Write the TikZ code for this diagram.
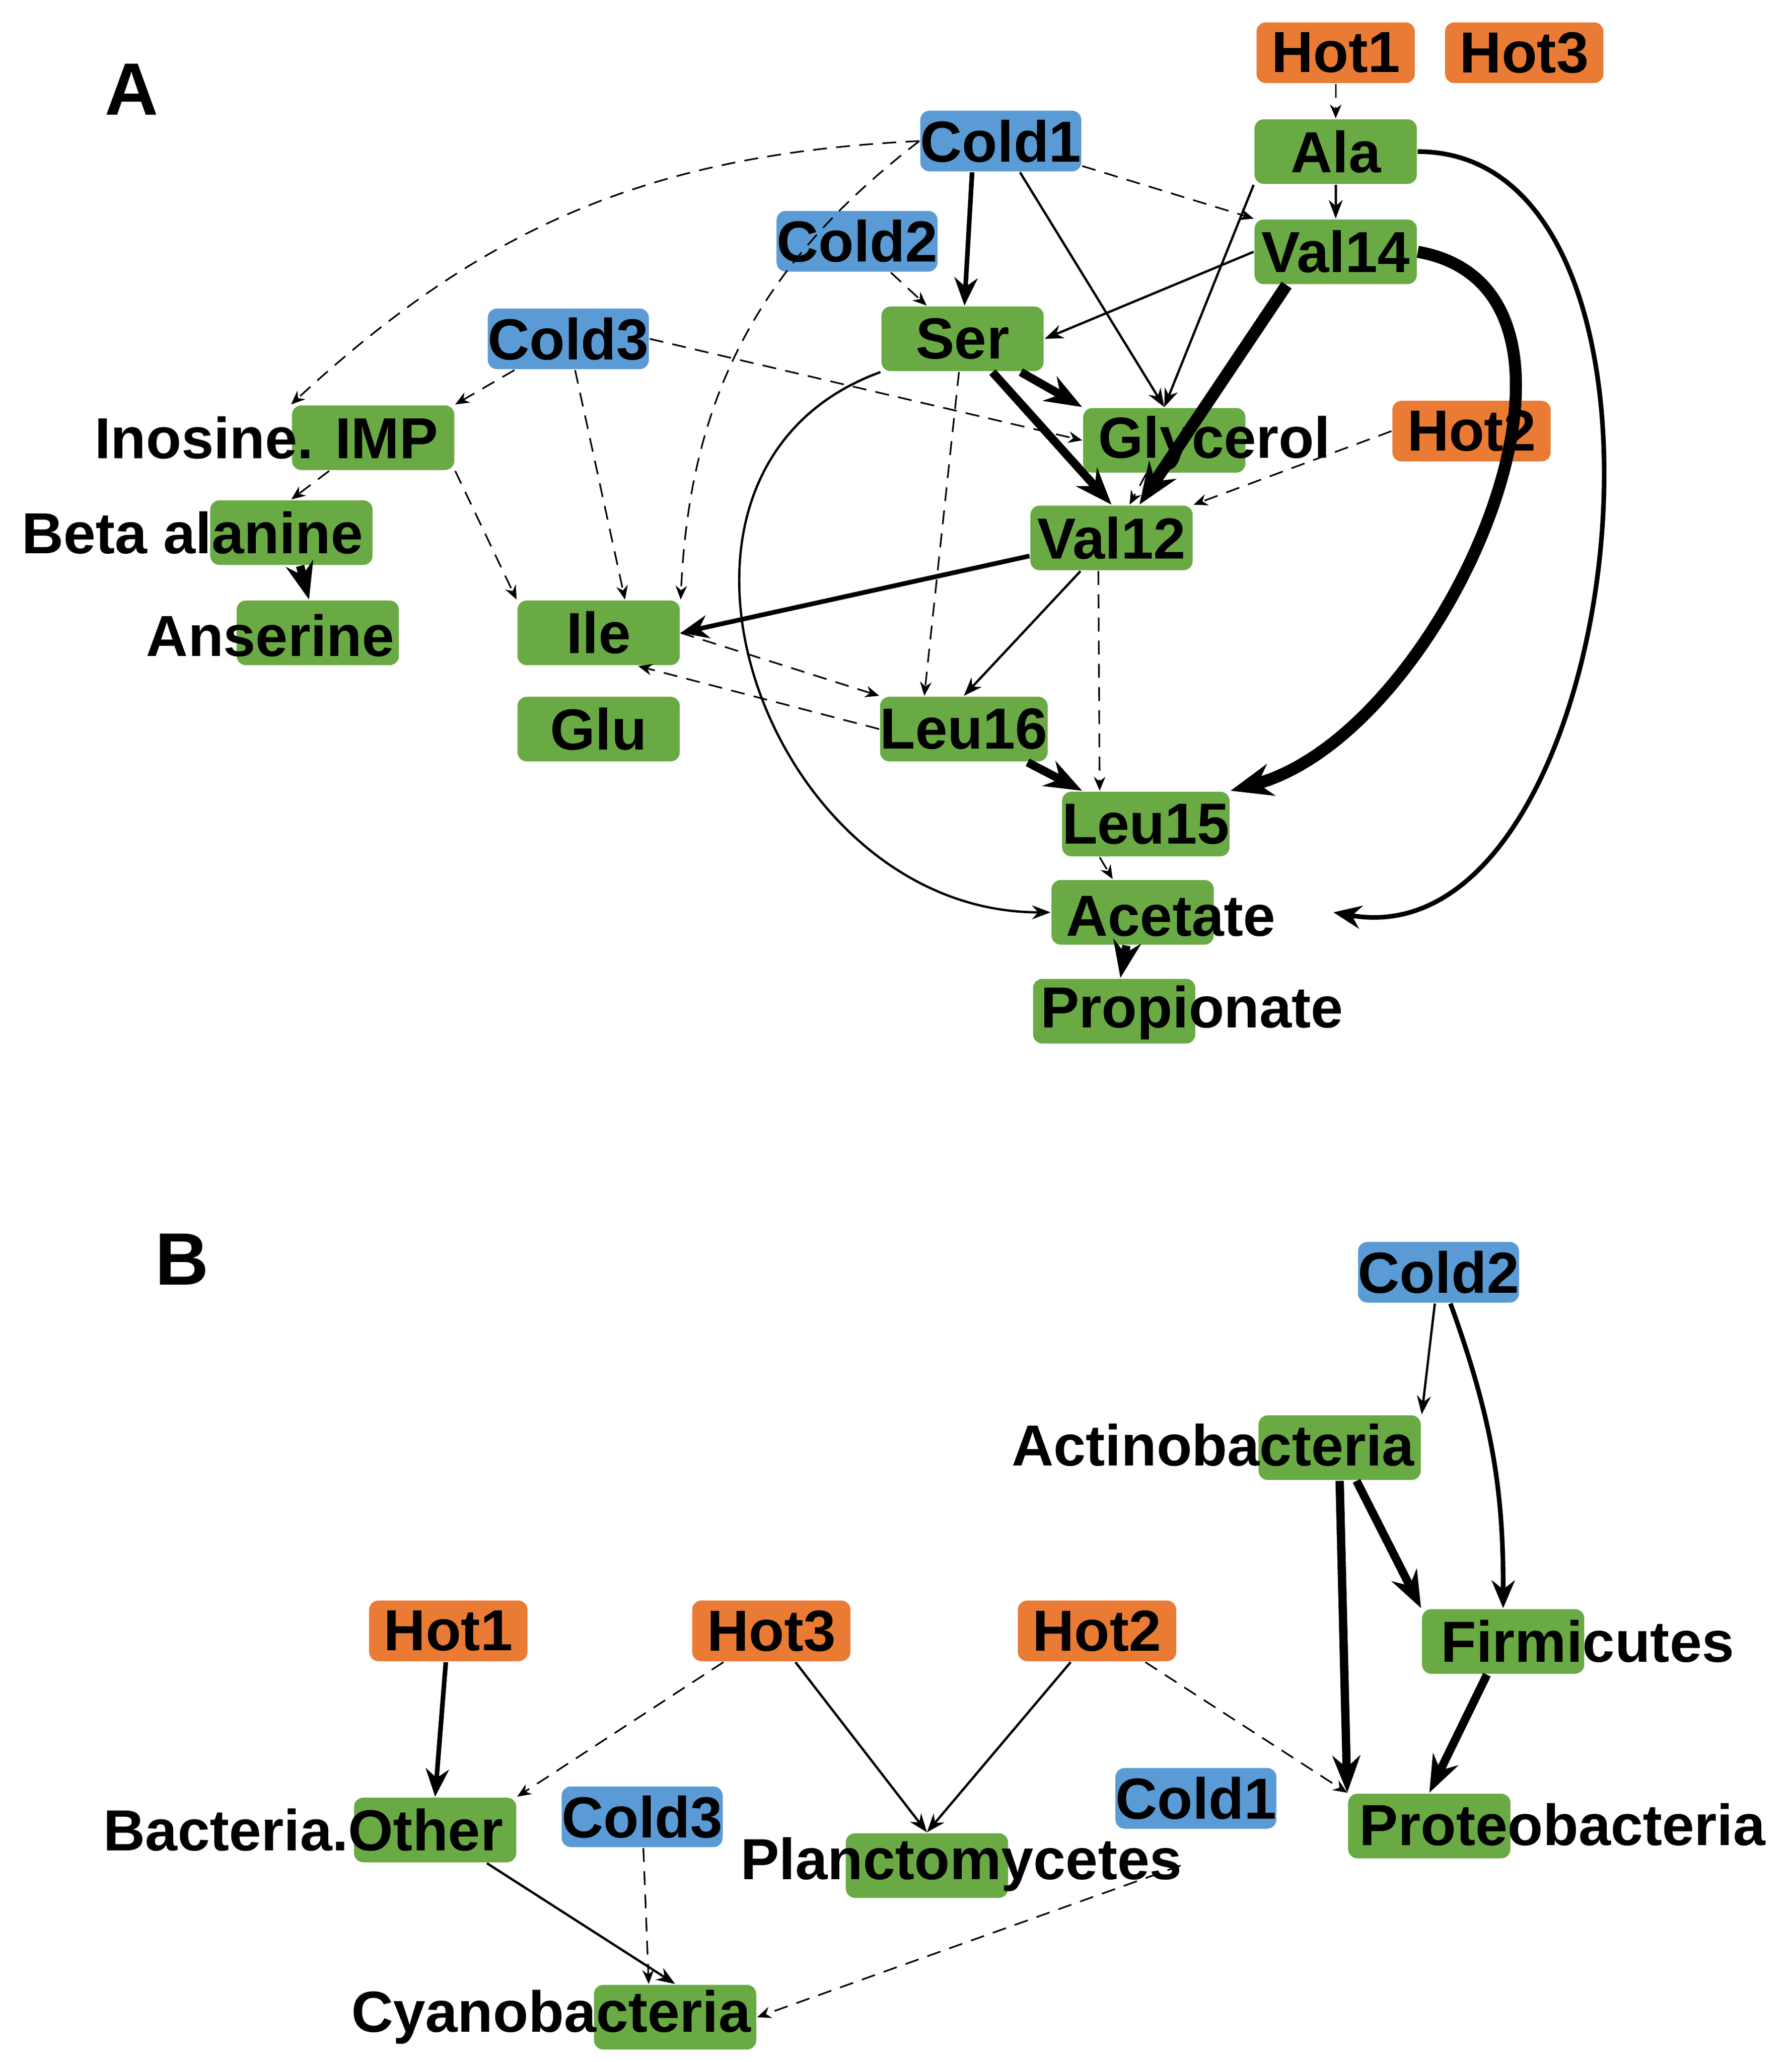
\documentclass[tikz,border=0pt]{standalone}
\usepackage{fontspec}
\setmainfont{Liberation Sans}
\usetikzlibrary{arrows.meta}
\definecolor{met_green}{HTML}{6AAA45}
\definecolor{cold_blue}{HTML}{5B9BD5}
\definecolor{hot_orange}{HTML}{E97B35}
\begin{document}
\begin{tikzpicture}[
  x=0.01cm, y=-0.01cm,
  gvertex/.style = {fill=met_green, rounded corners=2pt, minimum width=1.23cm, minimum height=0.49cm, inner sep=0pt},
  cvertex/.style = {fill=cold_blue, rounded corners=2pt, minimum width=1.2cm, minimum height=0.46cm, inner sep=0pt},
  hvertex/.style = {fill=hot_orange, rounded corners=2pt, minimum width=1.2cm, minimum height=0.46cm, inner sep=0pt},
  lbl/.style = {inner sep=0pt},
  e1/.style = {-{Stealth[length=4pt,width=3pt]}, line width=0.5pt},
  e2/.style = {-{Stealth[length=6pt,width=5pt]}, line width=1pt},
  e3/.style = {-{Stealth[length=8pt,width=6pt]}, line width=1.8pt},
  e4/.style = {-{Stealth[length=9pt,width=7pt]}, line width=2.6pt},
  dsh/.style = {-{Stealth[length=3pt,width=2.5pt]}, densely dashed, line width=0.35pt},
]
\tikzstyle{every node}=[font=\fontsize{12.5}{14}\selectfont\bfseries]
\useasboundingbox (0,0) rectangle (1359,1564);

% Panel A
\node[font=\fontsize{16}{18}\selectfont\bfseries\rmfamily] (labA) at (100,68) {A};
\node[hvertex] (AHot1) at (1013,40) {Hot1};
\node[hvertex] (AHot3) at (1156,40) {Hot3};
\node[hvertex] (AHot2) at (1116,327) {Hot2};
\node[cvertex] (ACold1) at (759,107) {Cold1};
\node[cvertex] (ACold2) at (650,183) {Cold2};
\node[cvertex] (ACold3) at (431,257) {Cold3};
\node[gvertex] (Ala) at (1013,115) {Ala};
\node[gvertex] (Val14) at (1013,191) {Val14};
\node[gvertex] (Ser) at (730,257) {Ser};
\node[gvertex] (IMP) at (283,332) {};
\node[lbl] at (202,332) {Inosine. IMP};
\node[gvertex] (Glycerol) at (883,334) {};
\node[lbl] at (921,336) {Glycerol};
\node[gvertex] (BetaAla) at (221,404) {};
\node[lbl] at (146,404) {Beta alanine};
\node[gvertex] (Val12) at (843,408) {Val12};
\node[gvertex] (Ile) at (454,480) {Ile};
\node[gvertex] (Anserine) at (241,480) {};
\node[lbl] at (205,482) {Anserine};
\node[gvertex] (Glu) at (454,553) {Glu};
\node[gvertex] (Leu16) at (731,553) {Leu16};
\node[gvertex] (Leu15) at (869,625) {Leu15};
\node[gvertex] (Acetate) at (859,692) {};
\node[lbl] at (888,695) {Acetate};
\node[gvertex] (Propionate) at (845,767) {};
\node[lbl] at (904,768) {Propionate};

\path[dsh] (AHot1) edge (Ala);
\path[e1] (Ala) edge (Val14);
\path[e2] (ACold1.south west) ++(40,0) edge (Ser);
\path[e1] (ACold1) edge (Glycerol.north);
\path[dsh] (ACold1) edge (Val14.north west);
\path[dsh] (ACold1.west) edge[bend right=20] (IMP.north west);
\path[dsh] (ACold1.west) edge[bend right=25] (Ile.north east);
\path[e1] (Ala.south west) edge (Glycerol.north);
\path[e2] (Ala.east) edge[out=0, in=-10, looseness=1] ([xshift=0.9cm]Acetate.east);
\path[e1] (Val14.west) edge (Ser.east);
\path[e4] (Val14.south west) ++(25,0) edge ([xshift=6pt]Val12.north);
\path[e4] (Val14.east) edge[out=-10, in=15, looseness=1] (Leu15.north east);
\path[dsh] (ACold2) edge (Ser);
\path[e3] (Ser) edge (Glycerol.north west);
\path[e3] (Ser) edge (Val12.north);
\path[e1] (Ser.south west) edge[out=200, in=180, looseness=1.3] (Acetate.west);
\path[dsh] (Ser) edge ([xshift=-0.3cm]Leu16.north);
\path[dsh] (ACold3) edge (IMP.north east);
\path[dsh] (ACold3.east) edge (Glycerol.west);
\path[dsh] (ACold3) edge ([xshift=0.2cm]Ile.north);
\path[dsh] (Glycerol) edge (Val12);
\path[dsh] (AHot2.west) edge (Val12.north east);
\path[e2] (Val12) edge (Ile.east);
\path[e1] (Val12) edge (Leu16.north);
\path[dsh] ([xshift=-0.1cm]Val12.south) edge ([xshift=-0.35cm]Leu15.north);
\path[dsh] (IMP) edge (BetaAla.north);
\path[dsh] (IMP.south east) edge (Ile.north west);
\path[e3] (BetaAla) edge (Anserine);
\path[dsh] (Ile.east) edge (Leu16.north west);
\path[dsh] (Leu16.west) edge ([xshift=0.3cm]Ile.south);
\path[e3] (Leu16) edge (Leu15);
\path[dsh] ([xshift=-0.35cm]Leu15.south) edge (Acetate);
\path[e3] (Acetate) edge (Propionate);

% Panel B
\node[font=\fontsize{16}{18}\selectfont\bfseries\rmfamily] (labB) at (138,955) {B};
\node[cvertex] (BCold2) at (1091,965) {Cold2};
\node[cvertex] (BCold1) at (907,1364) {Cold1};
\node[cvertex] (BCold3) at (487,1378) {Cold3};
\node[hvertex] (BHot1) at (340,1237) {Hot1};
\node[hvertex] (BHot3) at (585,1237) {Hot3};
\node[hvertex] (BHot2) at (832,1237) {Hot2};
\node[gvertex] (Actino) at (1016,1098) {};
\node[lbl] at (920,1096) {Actinobacteria};
\node[gvertex] (Firmi) at (1140,1245) {};
\node[lbl] at (1204,1245) {Firmicutes};
\node[gvertex] (Proteo) at (1084,1385) {};
\node[lbl] at (1185,1384) {Proteobacteria};
\node[gvertex] (Other) at (330,1388) {};
\node[lbl] at (230,1388) {Bacteria.Other};
\node[gvertex] (Plancto) at (703,1415) {};
\node[lbl] at (729,1414) {Planctomycetes};
\node[gvertex] (Cyano) at (512,1530) {};
\node[lbl] at (418,1530) {Cyanobacteria};

\path[e1] (BCold2) edge (Actino.north east);
\path[e2] (BCold2) edge[bend left=10] (Firmi.north);
\path[e3] (Actino) edge (Firmi.north west);
\path[e3] (Actino.south) edge (Proteo.north west);
\path[e3] (Firmi) edge (Proteo.north);
\path[e2] (BHot1) edge (Other.north);
\path[dsh] (BHot3) edge (Other.north east);
\path[e1] (BHot3) edge (Plancto.north);
\path[e1] (BHot2) edge (Plancto.north);
\path[dsh] (BHot2) edge (Proteo.north west);
\path[e1] (Other) edge (Cyano.north);
\path[dsh] (BCold3) edge ([xshift=-0.2cm]Cyano.north);
\path[dsh] ([xshift=1.3cm]Plancto.east) edge (Cyano.east);
\end{tikzpicture}
\end{document}
